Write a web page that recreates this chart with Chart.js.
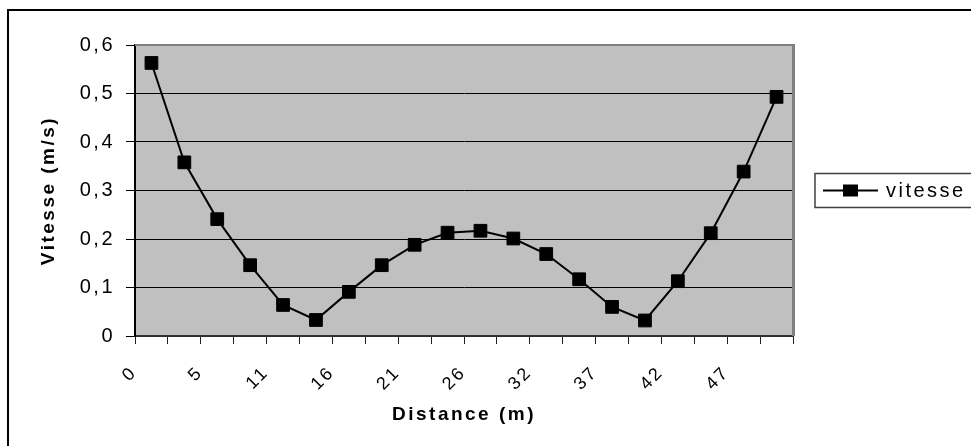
<!DOCTYPE html>
<html>
<head>
<meta charset="utf-8">
<script src="https://cdn.jsdelivr.net/npm/chart.js@4/dist/chart.umd.min.js"></script>
<style>
  body { margin: 0; background: #fff; }
  canvas { display: block; }
</style>
</head>
<body>
<canvas id="lineChart" width="971" height="446"></canvas>
<script>
// distances (m) - only every other one is written on the axis
const distances = [0, 3, 5, 8, 11, 13, 16, 18, 21, 24, 26, 29, 32, 34, 37, 39, 42, 45, 47, 50];
const vitesse = [0.563, 0.358, 0.241, 0.146, 0.064, 0.033, 0.091, 0.146, 0.188, 0.213,
    0.217, 0.201, 0.169, 0.117, 0.060, 0.032, 0.113, 0.212, 0.339, 0.493];
const yTicks = [0, 0.1, 0.2, 0.3, 0.4, 0.5, 0.6];

const FONT = 'Arial, "Liberation Sans", sans-serif';

// Excel-ish look: gray plot area, frame, boxed legend, spaced letters
const excelLook = {
    id: 'excelLook',
    beforeLayout(chart) {
        chart.ctx.letterSpacing = '2.5px';
    },
    beforeDraw(chart) {
        const ctx = chart.ctx;
        const a = chart.chartArea;
        ctx.letterSpacing = '2.5px';
        ctx.save();
        ctx.fillStyle = '#c0c0c0';
        ctx.fillRect(a.left, a.top, a.right - a.left, a.bottom - a.top);
        ctx.strokeStyle = '#000';
        ctx.lineWidth = 2;
        ctx.strokeRect(8, 10, chart.width + 20, chart.height + 20);
        ctx.restore();
    },
    beforeDatasetsDraw(chart) {
        const ctx = chart.ctx;
        const a = chart.chartArea;
        ctx.save();
        ctx.strokeStyle = '#808080';
        ctx.lineWidth = 2;
        ctx.beginPath();
        ctx.moveTo(a.left, a.top);
        ctx.lineTo(a.right, a.top);
        ctx.stroke();
        ctx.lineWidth = 3;
        ctx.beginPath();
        ctx.moveTo(a.right + 0.5, a.top - 1);
        ctx.lineTo(a.right + 0.5, a.bottom);
        ctx.stroke();
        ctx.restore();
    },
    afterDraw(chart) {
        const ctx = chart.ctx;
        const ds = chart.data.datasets[0];
        const a = chart.chartArea;
        const cy = (a.top + a.bottom) / 2;
        const x0 = a.right + 22;
        ctx.save();
        ctx.strokeStyle = '#404040';
        ctx.lineWidth = 1.5;
        ctx.strokeRect(x0, cy - 17, 200, 34);
        ctx.strokeStyle = ds.borderColor;
        ctx.lineWidth = 2;
        ctx.beginPath();
        ctx.moveTo(x0 + 8, cy);
        ctx.lineTo(x0 + 63, cy);
        ctx.stroke();
        ctx.fillStyle = ds.pointBackgroundColor;
        ctx.fillRect(x0 + 28, cy - 6, 15, 12);
        ctx.fillStyle = '#000';
        ctx.font = '20px ' + FONT;
        ctx.textBaseline = 'middle';
        ctx.fillText(ds.label, x0 + 71, cy + 1);
        ctx.restore();
    }
};

new Chart(document.getElementById('lineChart'), {
    type: 'line',
    data: {
        labels: distances,
        datasets: [
            {
                label: 'vitesse',
                data: vitesse,
                borderColor: '#000',
                borderWidth: 2,
                pointStyle: 'rect',
                pointRadius: 9,
                pointBackgroundColor: '#000',
                pointBorderColor: '#000',
                pointBorderWidth: 1,
                tension: 0
            }
        ]
    },
    options: {
        responsive: false,
        animation: false,
        layout: {
            padding: { top: 45, right: 178, bottom: 0, left: 0 }
        },
        scales: {
            x: {
                offset: true,
                afterFit: (scale) => { scale.height = 110; },
                grid: {
                    offset: true,
                    drawOnChartArea: false,
                    tickLength: 8,
                    tickColor: '#202020'
                },
                border: { color: '#303030', width: 2 },
                ticks: {
                    autoSkip: false,
                    minRotation: 45,
                    maxRotation: 45,
                    labelOffset: -17,
                    padding: 18,
                    color: '#000',
                    font: { family: FONT, size: 18 },
                    callback: function (value, index) {
                        return index % 2 === 0 ? this.getLabelForValue(value) : '';
                    }
                },
                title: {
                    display: true,
                    text: 'Distance (m)',
                    color: '#000',
                    font: { family: FONT, size: 19, weight: 'bold' },
                    padding: { top: 0, bottom: 20 }
                }
            },
            y: {
                min: 0,
                max: 0.6,
                afterFit: (scale) => { scale.width = 135; },
                afterBuildTicks: (scale) => {
                    scale.ticks = yTicks.map(v => ({ value: v }));
                },
                grid: {
                    color: (c) => c.tick && c.tick.value >= 0.6 ? 'rgba(0,0,0,0)' : '#000',
                    tickColor: '#000',
                    tickLength: 9,
                    lineWidth: 1
                },
                border: { color: '#000', width: 2 },
                ticks: {
                    padding: 11,
                    color: '#000',
                    font: { family: FONT, size: 20 },
                    callback: (v) => v === 0 ? '0' : v.toFixed(1).replace('.', ',')
                },
                title: {
                    display: true,
                    text: 'Vitesse (m/s)',
                    color: '#000',
                    font: { family: FONT, size: 19, weight: 'bold' },
                    padding: { top: 37, bottom: 0 }
                }
            }
        },
        plugins: {
            legend: { display: false },
            tooltip: { enabled: false }
        }
    },
    plugins: [excelLook]
});
</script>
</body>
</html>
